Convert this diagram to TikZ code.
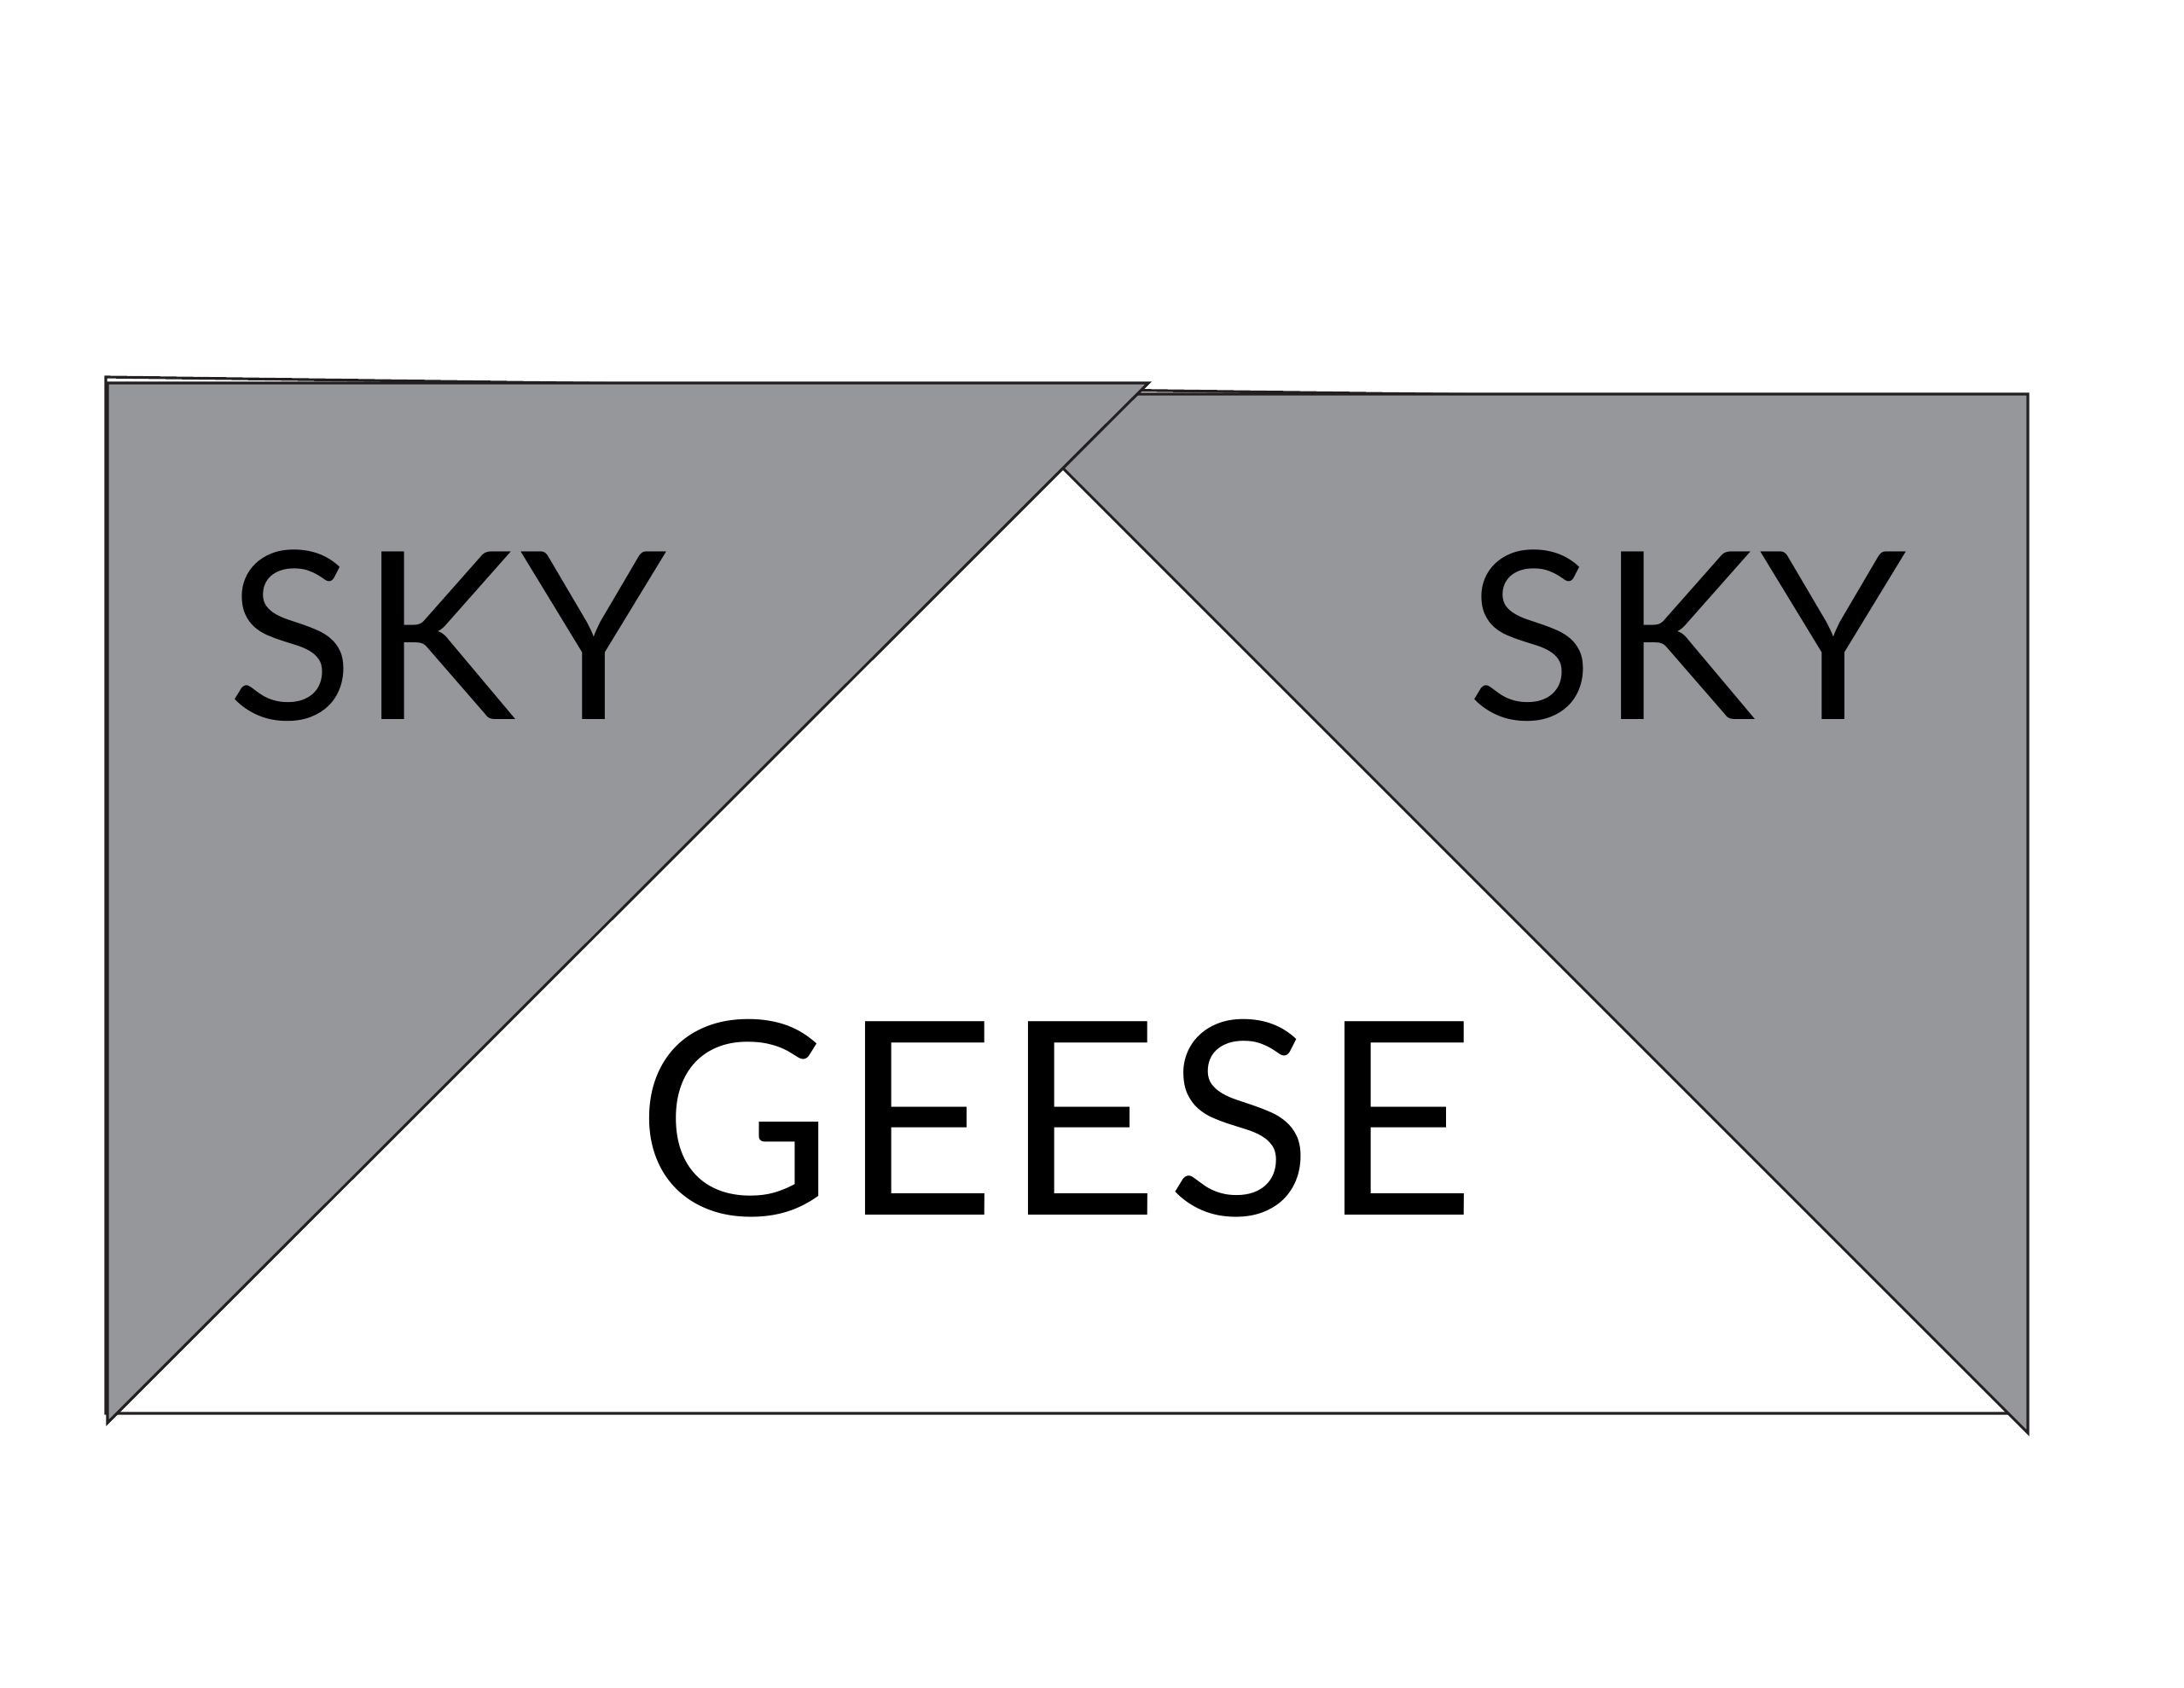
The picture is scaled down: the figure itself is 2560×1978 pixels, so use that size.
\documentclass[tikz,border=0pt]{standalone}
\usepackage{fontspec}
\newfontfamily\quiltfont[LetterSpace=2.5]{Lato}
\definecolor{QuiltGray}{RGB}{150,151,155}
\definecolor{QuiltLine}{RGB}{35,31,32}
\tikzset{
  block/.style={draw=QuiltLine, line width=0.9pt, fill=white, line join=miter},
  patch/.style={draw=QuiltLine, line width=0.9pt, fill=QuiltGray, line join=miter},
  skylabel/.style={anchor=base, inner sep=0pt, font=\quiltfont\fontsize{78}{80}\selectfont},
  geeselabel/.style={anchor=base, inner sep=0pt, font=\quiltfont\fontsize{90}{92}\selectfont}
}

\begin{document}
\begin{tikzpicture}[x=0.01cm, y=-0.01cm]
  \useasboundingbox (0,0) rectangle (2560,1978);
  % background block
  \draw[block] (124,442) -- (2370,471) -- (2370,1657) -- (124,1657) -- cycle;
  % sky triangles
  \draw[patch] (2377,462) -- (2377,1680) -- (1159,462) -- cycle;
  \draw[patch] (126,449) -- (1346,449) -- (126,1668) -- cycle;
  % labels
  \node[skylabel] (skyleft) at (524,843) {SKY};
  \node[skylabel] (skyright) at (1977,843) {SKY};
  \node[geeselabel] (geese) at (1238,1424) {GEESE};
\end{tikzpicture}
\end{document}
